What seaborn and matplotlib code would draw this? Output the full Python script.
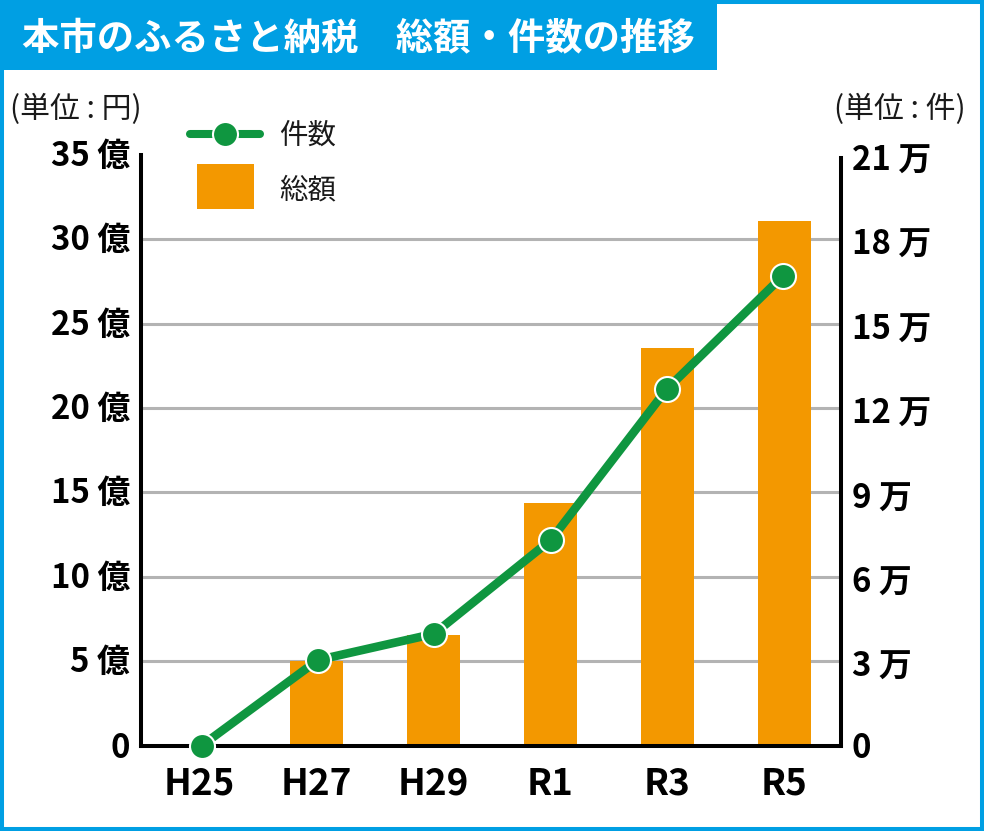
import pandas as pd
import matplotlib
matplotlib.use('Agg')
import matplotlib.pyplot as plt
import seaborn as sns
from matplotlib.lines import Line2D
from matplotlib.patches import Patch, Rectangle
from matplotlib.legend_handler import HandlerPatch, HandlerLine2D
from matplotlib.transforms import ScaledTranslation

sns.set_theme(style='white')
plt.rcParams['font.family'] = ['Noto Sans CJK JP', 'DejaVu Sans']

BLUE = '#009fe3'
ORANGE = '#f39800'
GREEN = '#0f9640'
W, H = 984, 831

# values
data = pd.DataFrame({
    'year': ['H25', 'H27', 'H29', 'R1', 'R3', 'R5'],
    'total': [0, 5.0, 6.55, 14.37, 23.55, 31.07],   # oku yen
    'count': [0, 3.04, 3.97, 7.31, 12.68, 16.7],    # man cases
    'pos': [0.02, 1.013, 2.004, 3.004, 3.996, 4.987],  # points sit slightly off the bar centres
})

fig = plt.figure(figsize=(W / 100, H / 100), dpi=100, facecolor='white')

# blue frame and title band
fig.add_artist(Rectangle((2 / W, 2 / H), 1 - 4 / W, 1 - 4 / H, transform=fig.transFigure,
                         facecolor='none', edgecolor=BLUE, linewidth=2.9))
fig.add_artist(Rectangle((0, 1 - 70 / H), 717 / W, 70 / H, transform=fig.transFigure,
                         facecolor=BLUE, edgecolor='none'))
fig.text(22 / W, 1 - 39 / H, '本市のふるさと納税　総額・件数の推移', color='white',
         fontsize=26.9, fontweight='bold', va='center', ha='left')

ax = fig.add_axes([141 / W, 1 - 745.5 / H, 699.5 / W, 590.6 / H])
ax.set_facecolor('none')
sns.barplot(data=data, x='year', y='total', color=ORANGE, saturation=1, width=0.455,
            linewidth=0, ax=ax, zorder=2)
ax.set_xlim(-0.5, 5.479)
ax.set_ylim(0, 35)
ax.set_xlabel('')
ax.set_ylabel('')
ax.set_yticks(range(0, 36, 5))
ax.set_yticklabels(['0'] + [f'{v} 億' for v in range(5, 36, 5)], fontsize=23.7, fontweight='bold',
                   color='black')
ax.tick_params(axis='x', length=0, pad=14.5, labelsize=26.5, labelcolor='black')
ax.tick_params(axis='y', length=0, pad=8)
for lab in ax.get_xticklabels():
    lab.set_fontweight('bold')
ax.grid(axis='y', color='#b3b3b3', linewidth=2.2, zorder=1)
ax.set_axisbelow(True)
ax.yaxis.get_gridlines()[-1].set_visible(False)
ax.yaxis.get_gridlines()[0].set_visible(False)

for s in ['left', 'bottom']:
    ax.spines[s].set_linewidth(2.9)
    ax.spines[s].set_color('black')
ax.spines['top'].set_visible(False)
ax.spines['right'].set_visible(False)

ax2 = ax.twinx()
sns.lineplot(data=data, x='pos', y='count', ax=ax2, color=GREEN, linewidth=6.2, marker='o',
             markersize=18, markerfacecolor=GREEN, markeredgecolor='white', markeredgewidth=1.5,
             errorbar=None, clip_on=False, zorder=5, legend=False)
ax2.set_ylim(0, 21)
ax2.set_xlabel('')
ax2.set_ylabel('')
ax2.set_yticks(range(0, 22, 3))
ax2.set_yticklabels(['0'] + [f'{v} 万' for v in range(3, 22, 3)], fontsize=23.7, fontweight='bold',
                    color='black')
ax2.tick_params(axis='y', length=0, pad=8)
ax2.grid(False)
for s in ['left', 'bottom', 'top']:
    ax2.spines[s].set_visible(False)
ax2.spines['right'].set_linewidth(2.9)
ax2.spines['right'].set_color('black')
ax2.spines['right'].set_bounds(0, 20.9)

# tick labels are not quite centred on their ticks in the original
up = ScaledTranslation(0, 2 / 100, fig.dpi_scale_trans)
down = ScaledTranslation(0, -3 / 100, fig.dpi_scale_trans)
for lab in ax.get_yticklabels()[1:]:
    lab.set_transform(lab.get_transform() + up)
for lab in ax2.get_yticklabels()[1:]:
    lab.set_transform(lab.get_transform() + down)

# unit notes
fig.text(10 / W, 1 - 109 / H, '(単位 : 円)', fontsize=21.5, va='center', ha='left', color='#1a1a1a')
fig.text(834 / W, 1 - 109 / H, '(単位 : 件)', fontsize=21.5, va='center', ha='left', color='#1a1a1a')


def small_swatch(legend, orig_handle, xdescent, ydescent, width, height, fontsize):
    w = width * 57 / 70
    return Rectangle((-xdescent + (width - w) / 2 + 0.7, -ydescent + 1.8), w, height)


class LoweredLine(HandlerLine2D):
    # brings the line down level with its label
    def create_artists(self, legend, orig_handle, xdescent, ydescent, width, height, fontsize, trans):
        return super().create_artists(legend, orig_handle, xdescent, ydescent + 8.8, width, height,
                                      fontsize, trans)


handles = [
    Line2D([], [], color=GREEN, linewidth=5.8, marker='o', markersize=18, markerfacecolor=GREEN,
           markeredgecolor='white', markeredgewidth=1.5, solid_capstyle='round'),
    Patch(facecolor=ORANGE, edgecolor='none'),
]
fig.legend(handles, ['件数', '総額'], loc='upper left', bbox_to_anchor=(190 / W, 1 - 112 / H),
           frameon=False, fontsize=20.5, labelcolor='#1a1a1a', borderpad=0, borderaxespad=0,
           handlelength=50.4 / 20.5, handleheight=2.08, labelspacing=0.315, handletextpad=0.68,
           handler_map={Patch: HandlerPatch(patch_func=small_swatch), Line2D: LoweredLine()})

fig.savefig('out.png', dpi=100)
